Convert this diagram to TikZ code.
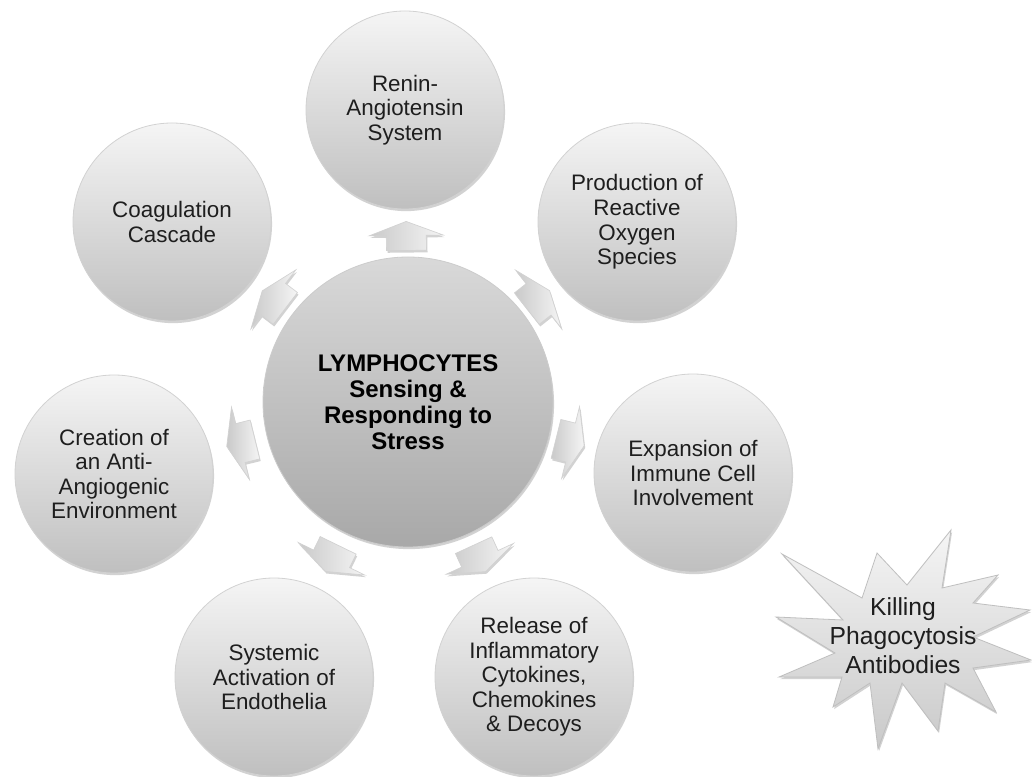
\documentclass[tikz,border=0pt]{standalone}
\usepackage{fontspec}
\setmainfont{Liberation Sans}
\usetikzlibrary{shadows,calc}
\definecolor{txt}{HTML}{1E1E1E}
\begin{document}
\begin{tikzpicture}[x=0.75pt,y=-0.75pt,
  shd/.style={drop shadow={opacity=0.35, shadow xshift=0.8pt, shadow yshift=-1.6pt}},
  sat/.style={circle, minimum size=148.5pt, inner sep=0pt, top color=gray!8, bottom color=gray!50,
    draw=gray!35, line width=0.6pt, align=center, text=txt, shd,
    font=\fontsize{16.8}{18.4}\selectfont},
  hub/.style={circle, minimum size=217.5pt, inner sep=0pt, top color=gray!30, bottom color=gray!68,
    draw=gray!40, line width=0.6pt, align=center, text=black, shd,
    font=\bfseries\fontsize{18}{19.5}\selectfont},
  blkfill/.style={left color=gray!42, right color=gray!8, draw=gray!35, line width=0.5pt, shd},
  blkarrow/.pic={
    \path[blkfill] (-14,-20) -- (1,-20) -- (1,-37) -- (15,0) -- (1,37) -- (1,20) -- (-14,20) -- cycle;
  },
  starlbl/.style={align=center, text=txt, font=\fontsize{18.5}{21.75}\selectfont}
]
\fill[white] (0,0) rectangle (1032,777);
\useasboundingbox (0,0) rectangle (1032,777);

\node[hub] (c) at (408,402) {LYMPHOCYTES\\Sensing \&\\Responding to\\Stress};

\node[sat] (s1) at (405,110) {Renin-\\Angiotensin\\System};
\node[sat] (s2) at (637,222) {Production of\\Reactive\\Oxygen\\Species};
\node[sat] (s3) at (693,473) {Expansion of\\Immune Cell\\Involvement};
\node[sat] (s4) at (534,677) {Release of\\Inflammatory\\Cytokines,\\Chemokines\\\& Decoys};
\node[sat] (s5) at (274,677) {Systemic\\Activation of\\Endothelia};
\node[sat] (s6) at (114,474) {Creation of\\an Anti-\\Angiogenic\\Environment};
\node[sat] (s7) at (172,222) {Coagulation\\Cascade};

\coordinate (a1) at ($(c)!0.567!(s1)$);
\coordinate (a2) at ($(c)!0.567!(s2)$);
\coordinate (a3) at ($(c)!0.567!(s3)$);
\coordinate (a4) at ($(c)!0.567!(s4)$);
\coordinate (a5) at ($(c)!0.567!(s5)$);
\coordinate (a6) at ($(c)!0.567!(s6)$);
\coordinate (a7) at ($(c)!0.567!(s7)$);
\pic[rotate=90.6]  at (a1) {blkarrow};
\pic[rotate=38.2]  at (a2) {blkarrow};
\pic[rotate=-14.0] at (a3) {blkarrow};
\pic[rotate=-65.4] at (a4) {blkarrow};
\pic[rotate=-116.0] at (a5) {blkarrow};
\pic[rotate=-166.2] at (a6) {blkarrow};
\pic[rotate=142.7] at (a7) {blkarrow};

\path[top color=gray!8, bottom color=gray!42, draw=gray!50, line width=0.6pt, shd]
  (951,530) -- (942,588) -- (998,575) -- (973,603) -- (1030,610) -- (973,637)
  -- (1031,660) -- (973,668) -- (996,712) -- (945,683) -- (938,731) -- (902,683)
  -- (878,749) -- (870,683) -- (833,707) -- (842,677) -- (779,677) -- (835,653)
  -- (776,617) -- (843,620) -- (782,554) -- (862,598) -- (877,553) -- (907,585) -- cycle;
\node[starlbl] (k) at (903,636) {Killing\\Phagocytosis\\Antibodies};
\end{tikzpicture}
\end{document}
